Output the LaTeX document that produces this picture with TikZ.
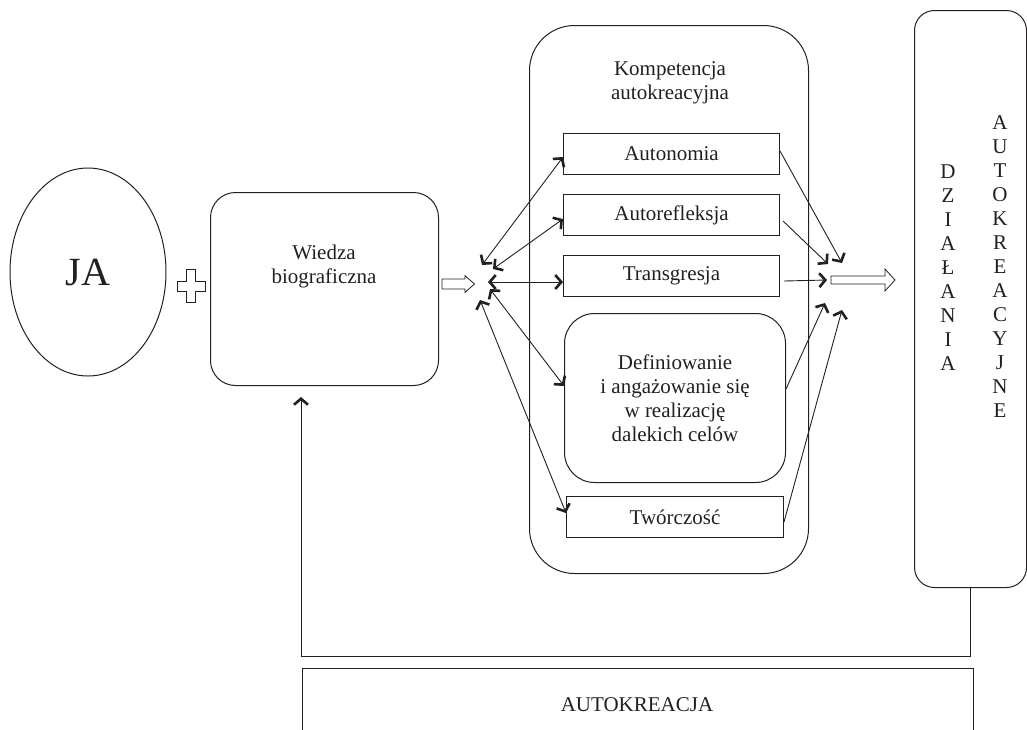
\documentclass[tikz,border=0pt]{standalone}
\usepackage{fontspec}
\setmainfont{Liberation Serif}
\usetikzlibrary{arrows.meta,calc,shapes.geometric}
\definecolor{ink}{HTML}{231F20}
\begin{document}
\begin{tikzpicture}[x=1pt,y=-1pt,
  box/.style={draw=ink, line width=1pt, anchor=north west, inner sep=0pt},
  txt/.style={text=ink, font=\fontsize{21}{24}\selectfont, align=center, inner sep=0pt},
  link/.style={draw=ink, line width=0.9pt},
  hollow/.style={draw=ink, line width=0.8pt, fill=white},
  onearrow/.style={link, -{Straight Barb[length=6pt,width=14pt,line width=2.6pt]}},
  twoarrow/.style={link, {Straight Barb[length=6pt,width=14pt,line width=2.6pt]}-{Straight Barb[length=6pt,width=14pt,line width=2.6pt]}}]
\useasboundingbox (0,0) rectangle (1027,729);
\clip (0,0) rectangle (1027,729);

% JA and Wiedza
\node[draw=ink, line width=1pt, ellipse, minimum width=156pt, minimum height=208pt, inner sep=0pt,
      text=ink, font=\fontsize{40}{44}\selectfont] (ja) at (88,272) {JA};
\draw[hollow] (186.5,269) -- (195.5,269) -- (195.5,281.5) -- (205,281.5) -- (205,291.5) -- (195.5,291.5)
  -- (195.5,302) -- (186.5,302) -- (186.5,291.5) -- (177,291.5) -- (177,281.5) -- (186.5,281.5) -- cycle;
\node[box, rounded corners=25pt, minimum width=228pt, minimum height=193pt] (wiedza) at (210,192) {};
\node[txt] (wiedzatxt) at (324,266) {Wiedza\\biograficzna};
\draw[hollow] (442,279) -- (465,279) -- (465,275.7) -- (474.5,284) -- (465,292.3) -- (465,289) -- (442,289) -- cycle;

% Kompetencja
\node[box, rounded corners=45pt, minimum width=279pt, minimum height=548pt] (komp) at (529,25) {};
\node[txt] (komptxt) at (670,83) {Kompetencja\\autokreacyjna};
\node[box, txt, minimum width=216pt, minimum height=41pt] (auton) at (563,133) {\raisebox{-2pt}{Autonomia}};
\node[box, txt, minimum width=216pt, minimum height=41pt] (autoref) at (563,194) {\raisebox{-5pt}{Autorefleksja}};
\node[box, txt, minimum width=216pt, minimum height=41pt] (trans) at (563,255) {\raisebox{-3pt}{Transgresja}};
\node[box, txt, rounded corners=30pt, minimum width=221pt, minimum height=169pt] (defin) at (564,313)
  {Definiowanie\\i angażowanie się\\w realizację\\dalekich celów};
\node[box, txt, minimum width=217pt, minimum height=41pt] (tworcz) at (566,496) {\raisebox{-1pt}{Twórczość}};

% left convergence
\coordinate (l1) at (482,265);
\coordinate (l2) at (493,269);
\coordinate (l3) at (488,282);
\coordinate (l4) at (490,289);
\coordinate (l5) at (480,300);
\draw[twoarrow] (l1) -- ($(auton.west)+(0,3)$);
\draw[twoarrow] (l2) -- ($(autoref.west)+(0,4)$);
\draw[twoarrow] (l3) -- ($(trans.west)+(0,6)$);
\draw[twoarrow] (l4) -- ($(defin.west)+(0,-12)$);
\draw[twoarrow] (l5) -- ($(tworcz.west)+(0,-4)$);

% right convergence
\coordinate (r1) at (842,263);
\coordinate (r2) at (828,264);
\coordinate (r3) at (827,280);
\coordinate (r4) at (825,303);
\coordinate (r5) at (842,310);
\draw[onearrow] ($(auton.east)+(0,-3)$) -- (r1);
\draw[onearrow] ($(autoref.east)+(3,6)$) -- (r2);
\draw[onearrow] ($(trans.east)+(4,5)$) -- (r3);
\draw[onearrow] ($(defin.east)+(0,-9)$) -- (r4);
\draw[onearrow] ($(tworcz.east)+(0,5)$) -- (r5);
\draw[hollow] (831,276) -- (885,276) -- (885,269) -- (895,280) -- (885,291) -- (885,284) -- (831,284) -- cycle;

% right box
\node[box, rounded corners=20pt, minimum width=112pt, minimum height=577pt] (dzial) at (914,10) {};
\node[txt, anchor=north] (dzialtxt) at (948,165) {D\\Z\\I\\A\\Ł\\A\\N\\I\\A};
\node[txt, anchor=north] (autotxt) at (1000,115) {A\\U\\T\\O\\K\\R\\E\\A\\C\\Y\\J\\N\\E};

% feedback and bottom box
\coordinate (fbend) at (301,397);
\draw[onearrow] (dzial.south) -- ++(0,68) -| (fbend);
\node[box, minimum width=671pt, minimum height=100pt] (autokre) at (302,668) {};
\node[txt] (autokretxt) at (637,705) {AUTOKREACJA};
\end{tikzpicture}
\end{document}
